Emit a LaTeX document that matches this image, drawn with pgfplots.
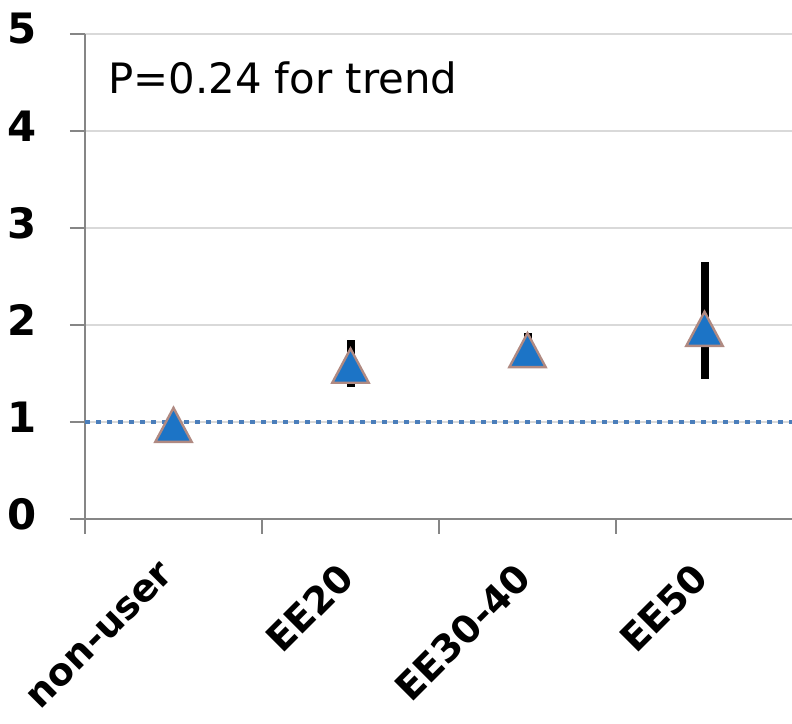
\documentclass[border=0pt]{standalone}
\usepackage{fontspec}
\setmainfont{DejaVu Sans}
\usepackage{pgfplots}
\pgfplotsset{compat=1.18}
\definecolor{gridc}{HTML}{D9D9D9}
\definecolor{axc}{HTML}{868686}
\definecolor{dotc}{HTML}{4A7EBB}
\definecolor{mfill}{HTML}{1C74C6}
\definecolor{medge}{HTML}{B08A82}
\begin{document}
\begin{tikzpicture}[x=1bp,y=1bp]
\begin{axis}[
  at={(85bp,205bp)}, anchor=south west,
  scale only axis, width=708bp, height=485bp,
  xmin=-0.5, xmax=3.5, ymin=0, ymax=5,
  axis x line=bottom, axis y line=left,
  axis line style={-, axc, line width=1.8bp},
  ytick={0,1,2,3,4,5},
  ymajorgrids, grid style={gridc, line width=1.5bp},
  tick align=outside, major tick length=15bp,
  tick style={axc, line width=1.8bp},
  xtick={-0.5,0.5,1.5,2.5,3.5}, xticklabels={},
  extra x ticks={0,1,2,3},
  extra x tick labels={non-user,EE20,EE30-40,EE50},
  extra x tick style={tick style={draw=none}, grid=none,
    tick label style={xshift=-14bp, yshift=-27bp, rotate=45, anchor=north east, inner sep=0pt}},
  tick label style={font=\fontsize{38}{44}\selectfont\bfseries},
  /pgf/number format/assume math mode=true,
  yticklabel style={anchor=east, inner sep=0pt, xshift=-33bp, yshift=5bp, font=\fontsize{42}{48}\selectfont\bfseries},
  clip=false,
]
\addplot[only marks, mark=triangle*, mark size=21bp,
  mark options={fill=mfill, draw=medge, line width=2.4bp, yshift=-6.6bp, yscale=1.08},
  error bars/.cd, y dir=both, y explicit, error mark=none,
  error bar style={line width=8bp, black}]
  coordinates {
    (0,0.98) +- (0,0)
    (1,1.59) += (0,0.26) -= (0,0.23)
    (2,1.75) += (0,0.17) -= (0,0.15)
    (3,1.97) += (0,0.68) -= (0,0.53)
  };
\addplot[dotc, line width=4bp, dash pattern=on 5bp off 6bp] coordinates {(-0.5,1) (3.5,1)};
\node[anchor=base west, inner sep=0pt, font=\fontsize{42}{48}\selectfont] at (rel axis cs:0.0325,0.878) {P=0.24 for trend};
\end{axis}
\pgfresetboundingbox
\useasboundingbox (0,0) rectangle (792,724);
\end{tikzpicture}
\end{document}
